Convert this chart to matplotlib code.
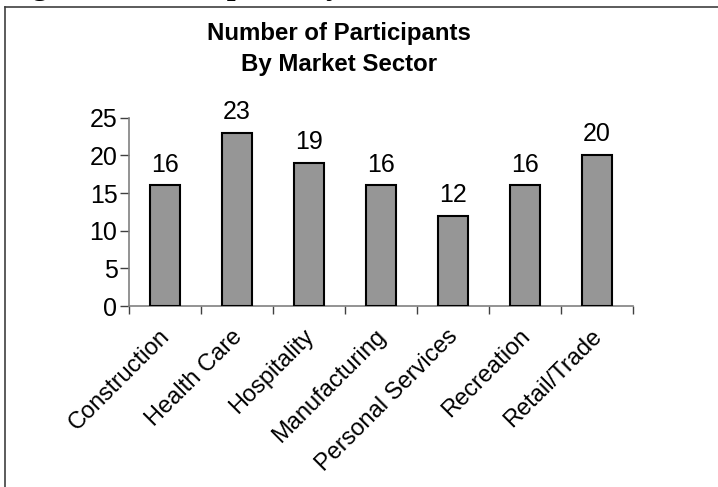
import numpy as np
import matplotlib.pyplot as plt
from matplotlib.lines import Line2D
from matplotlib.transforms import ScaledTranslation

sectors = ['Construction', 'Health Care', 'Hospitality', 'Manufacturing',
           'Personal Services', 'Recreation', 'Retail/Trade']
participants = [16, 23, 19, 16, 12, 16, 20]
y_ticks = [0, 5, 10, 15, 20, 25]

plt.rcParams['font.family'] = ['Liberation Sans', 'DejaVu Sans']

W, H = 718, 487
fig = plt.figure(figsize=(W / 100, H / 100), dpi=100)

# Plot area in pixel terms
left, right, bottom, top = 129, 633, 306, 117.7
ax = fig.add_axes([left / W, 1 - bottom / H, (right - left) / W,
                   (bottom - top) / H])

x = np.arange(len(sectors))
bars = ax.bar(x, participants, width=0.41, color='#969696',
              edgecolor='black', linewidth=1.5, zorder=3)

# Value labels above each bar
for xi, val in zip(x, participants):
    ax.annotate(str(val), (xi, val), xytext=(0, 10),
                textcoords='offset points', ha='center', va='baseline',
                fontsize=18)

ax.set_xlim(-0.5, len(sectors) - 0.5)
ax.set_ylim(0, 25)
ax.set_yticks(y_ticks)
ax.tick_params(axis='y', labelsize=18, length=6.3, width=1,
               color='#404040', pad=2)

# Category boundaries get the tick marks, centres get the labels
ax.set_xticks(np.arange(len(sectors) + 1) - 0.5)
ax.set_xticklabels([])
ax.set_xticks(x, minor=True)
ax.set_xticklabels(sectors, minor=True, rotation=45, ha='right',
                   va='top', rotation_mode='anchor', fontsize=17)
ax.tick_params(axis='x', which='major', length=6, width=1, color='#404040')
ax.tick_params(axis='x', which='minor', length=0, pad=14)
shift = ScaledTranslation(-6 / 100, 0, fig.dpi_scale_trans)
for lbl in ax.get_xticklabels(minor=True):
    lbl.set_transform(lbl.get_transform() + shift)

for side in ['top', 'right']:
    ax.spines[side].set_visible(False)
for side in ['left', 'bottom']:
    ax.spines[side].set_color('#808080')
    ax.spines[side].set_linewidth(1.2)

fig.text(339 / W, 1 - 40 / H, 'Number of Participants', ha='center',
         va='baseline', fontsize=17.3, fontweight='bold')
fig.text(339 / W, 1 - 71 / H, 'By Market Sector', ha='center',
         va='baseline', fontsize=17.3, fontweight='bold')

# Caption above the chart box, mostly outside the page
fig.text(4 / W, 1 + 6 / H, 'Figure 2: Participants by Market Sector',
         ha='left', va='baseline', fontsize=22.8, fontweight='bold',
         family=['Liberation Serif', 'DejaVu Serif'])

# Chart box border (left and top edges)
fig.add_artist(Line2D([5 / W, 5 / W], [0, 1 - 7 / H], color='#404040',
                      linewidth=1.2, transform=fig.transFigure))
fig.add_artist(Line2D([5 / W, 1], [1 - 7 / H, 1 - 7 / H], color='#404040',
                      linewidth=1.2, transform=fig.transFigure))

fig.savefig('out.png', dpi=100)
